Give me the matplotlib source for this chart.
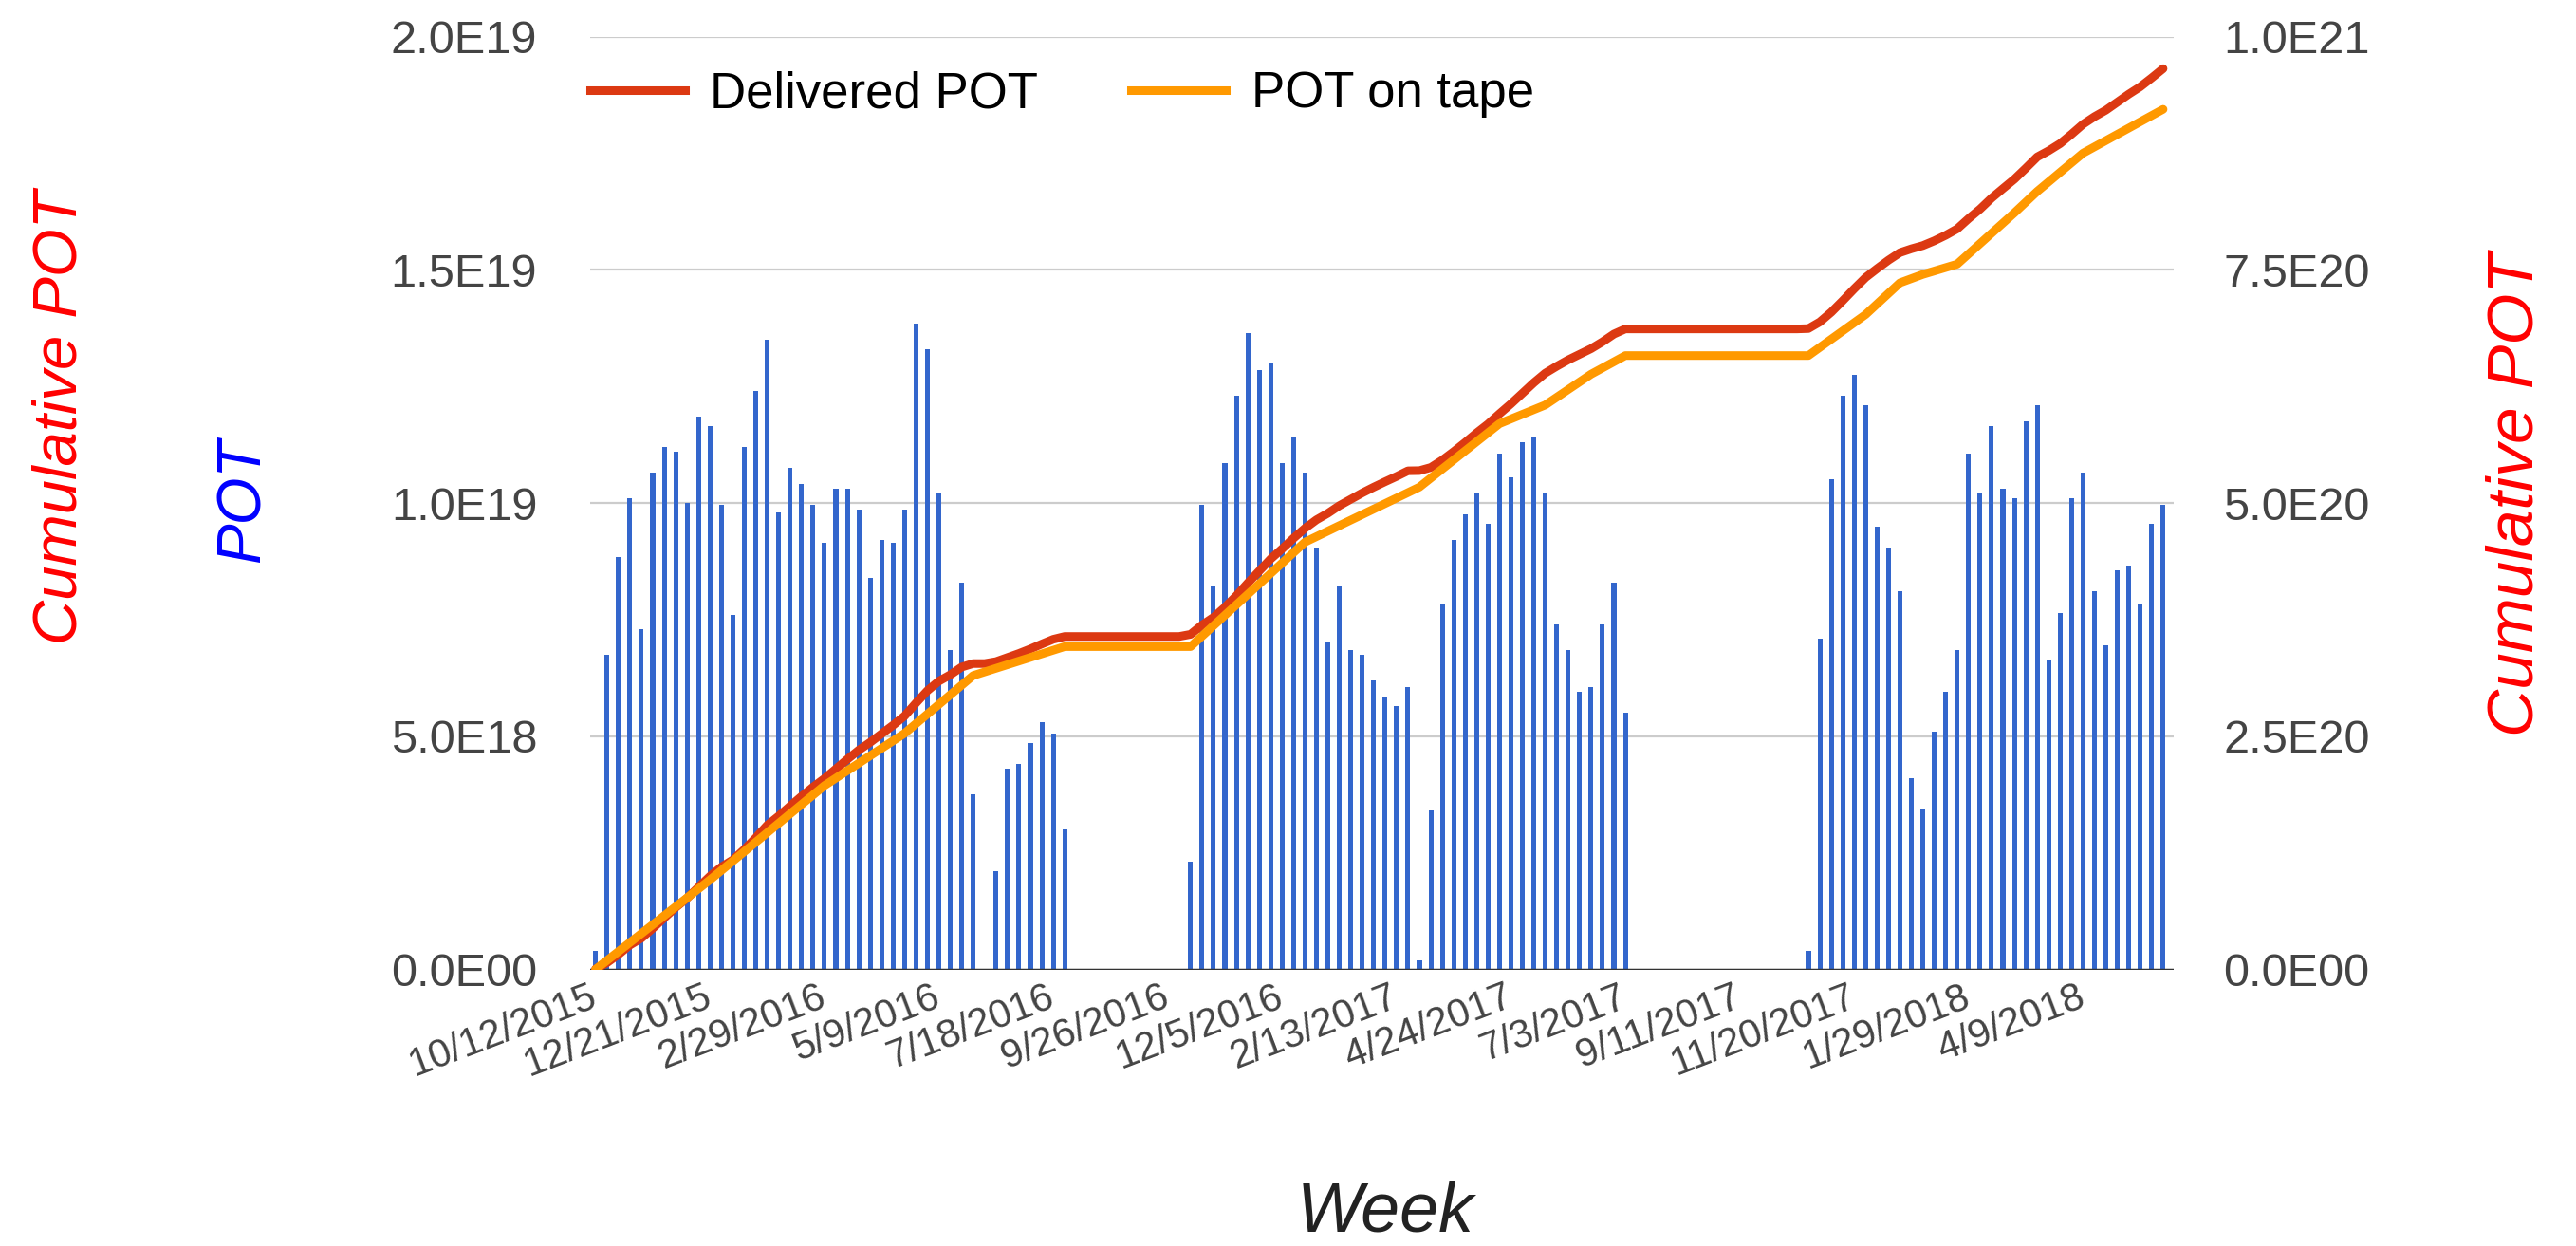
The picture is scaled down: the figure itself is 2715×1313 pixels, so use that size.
import numpy as np
import matplotlib
matplotlib.use("Agg")
import matplotlib.pyplot as plt
from matplotlib.lines import Line2D

plt.rcParams['font.family'] = ['Liberation Sans', 'DejaVu Sans']

# ---------------- data ----------------
# weekly delivered POT, in units of 1E18, one value per week starting 10/12/2015
weekly_pot_e18 = [
    0.4, 6.75, 8.85, 10.1, 7.3, 10.65, 11.2, 11.1, 10.0, 11.85,
    11.65, 9.95, 7.6, 11.2, 12.4, 13.5, 9.8, 10.75, 10.4, 9.95,
    9.15, 10.3, 10.3, 9.85, 8.4, 9.2, 9.15, 9.85, 13.85, 13.3,
    10.2, 6.85, 8.3, 3.75, 0.0, 2.1, 4.3, 4.4, 4.85, 5.3,
    5.05, 3.0, 0, 0, 0, 0, 0, 0, 0, 0,
    0, 0, 2.3, 9.95, 8.2, 10.85, 12.3, 13.65, 12.85, 13.0,
    10.85, 11.4, 10.65, 9.05, 7.0, 8.2, 6.85, 6.75, 6.2, 5.85,
    5.65, 6.05, 0.2, 3.4, 7.85, 9.2, 9.75, 10.2, 9.55, 11.05,
    10.55, 11.3, 11.4, 10.2, 7.4, 6.85, 5.95, 6.05, 7.4, 8.3,
    5.5, 0, 0, 0, 0, 0, 0, 0, 0, 0,
    0, 0, 0, 0, 0, 0, 0.4, 7.1, 10.5, 12.3,
    12.75, 12.1, 9.5, 9.05, 8.1, 4.1, 3.45, 5.1, 5.95, 6.85,
    11.05, 10.2, 11.65, 10.3, 10.1, 11.75, 12.1, 6.65, 7.65, 10.1,
    10.65, 8.1, 6.95, 8.55, 8.65, 7.85, 9.55, 9.95,
]

# cumulative POT on tape (week index, value in 1E20)
tape_weeks = [0, 10, 20, 27, 33, 41, 52, 62, 72, 79, 83, 87, 90, 106,
              111, 114, 116, 119, 124, 126, 130, 137]
tape_cum_e20 = [0, 0.96, 1.97, 2.53, 3.15, 3.46, 3.46, 4.58, 5.17, 5.85, 6.05,
                6.38, 6.58, 6.58, 7.02, 7.36, 7.45, 7.56, 8.11, 8.34, 8.75, 9.22]

tick_weeks = [0, 10, 20, 30, 40, 50, 60, 70, 80, 90, 100, 110, 120, 130]
tick_labels = ["10/12/2015", "12/21/2015", "2/29/2016", "5/9/2016", "7/18/2016",
               "9/26/2016", "12/5/2016", "2/13/2017", "4/24/2017", "7/3/2017",
               "9/11/2017", "11/20/2017", "1/29/2018", "4/9/2018"]

left_ticks = [0, 5e18, 1e19, 1.5e19, 2e19]
left_labels = ["0.0E00", "5.0E18", "1.0E19", "1.5E19", "2.0E19"]
right_ticks = [0, 2.5e20, 5e20, 7.5e20, 1e21]
right_labels = ["0.0E00", "2.5E20", "5.0E20", "7.5E20", "1.0E21"]

series_names = ["Delivered POT", "POT on tape"]

# ---------------- figure ----------------
W, H = 2715, 1313
fig = plt.figure(figsize=(W / 100, H / 100), dpi=100)
x0, x1 = 621.7, 2290.7
y_top, y_bot = 38.5, 1021.5
ax = fig.add_axes([x0 / W, (H - y_bot) / H, (x1 - x0) / W, (y_bot - y_top) / H])

weekly = np.array(weekly_pot_e18) * 1e18
weeks = np.arange(len(weekly))

BLUE = "#3366CC"
RED = "#DC3912"
ORANGE = "#FF9900"
TICKC = "#444444"

ax.bar(weeks, weekly, width=0.42, color=BLUE, zorder=2)
ax.set_xlim(-0.5, 137.9)
ax.set_ylim(0, 2e19)
ax.set_yticks(left_ticks)
ax.set_yticklabels(left_labels)
ax.yaxis.grid(True, color="#cccccc", lw=1.6, zorder=0)
ax.set_axisbelow(True)
ax.axhline(0, color="#333333", lw=2.5, zorder=4)
for s in ax.spines.values():
    s.set_visible(False)
ax.tick_params(axis="y", length=0, pad=40, labelsize=35, labelcolor=TICKC)
ax.set_xticks(tick_weeks)
ax.set_xticklabels(tick_labels, rotation=21, ha="right", va="center",
                   rotation_mode="anchor")
ax.tick_params(axis="x", length=0, pad=20, labelsize=30, labelcolor=TICKC)

ax2 = ax.twinx()
ax2.set_ylim(0, 1e21)
ax2.set_yticks(right_ticks)
ax2.set_yticklabels(right_labels)
for s in ax2.spines.values():
    s.set_visible(False)
ax2.tick_params(axis="y", length=0, pad=38, labelsize=35, labelcolor=TICKC)

delivered_cum = np.cumsum(weekly)
ax2.plot(weeks, delivered_cum, color=RED, lw=6.5, solid_joinstyle="round",
         solid_capstyle="round", zorder=5)
ax2.plot(tape_weeks, np.array(tape_cum_e20) * 1e20, color=ORANGE, lw=6.5,
         solid_joinstyle="round", solid_capstyle="round", zorder=5)

handles = [Line2D([], [], color=RED, lw=6.5), Line2D([], [], color=ORANGE, lw=6.5)]
ax2.legend(handles, series_names, loc="center left", bbox_to_anchor=(0.0, 0.938),
           ncol=2, frameon=False, fontsize=38, handlelength=1.9,
           handletextpad=0.5, columnspacing=1.85, borderaxespad=0, borderpad=0)

# axis titles
fig.text(64 / W, 1 - 440 / H, "Cumulative POT", color="red", style="italic",
         rotation=90, ha="center", va="center", fontsize=47)
fig.text(257 / W, 1 - 527 / H, "POT", color="blue", style="italic",
         rotation=90, ha="center", va="center", fontsize=46)
fig.text(2652 / W, 1 - 521 / H, "Cumulative POT", color="red", style="italic",
         rotation=90, ha="center", va="center", fontsize=50)
fig.text(1460 / W, 1 - 1278 / H, "Week", color="#222222", style="italic",
         ha="center", va="center", fontsize=53)

fig.savefig("out.png", dpi=100, facecolor="white")
